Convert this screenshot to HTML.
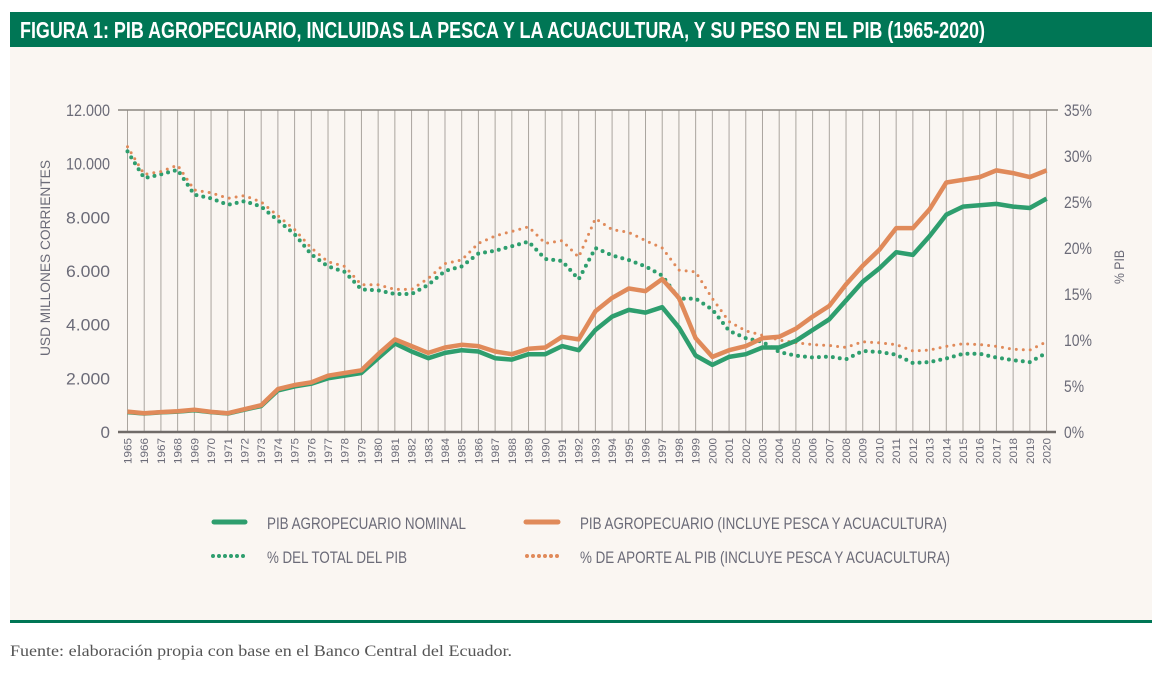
<!DOCTYPE html>
<html><head><meta charset="utf-8"><style>
body{margin:0;width:1174px;height:679px;background:#fff;overflow:hidden}
#title{position:absolute;left:10px;top:12px;width:1142px;height:35px;background:#007655}
#panel{position:absolute;left:10px;top:47px;width:1142px;height:573px;background:#faf6f2;border-bottom:3px solid #007655}
svg{position:absolute;left:0;top:0}
</style></head><body>
<div id="title"></div>
<div id="panel"></div>
<svg id="s" width="1174" height="679" font-family="Liberation Sans, sans-serif"></svg>
<script>
const o=[760,700,740,770,830,750,700,850,1000,1600,1750,1850,2100,2200,2300,2900,3450,3200,2950,3150,3250,3200,3000,2900,3100,3150,3550,3450,4500,5000,5350,5250,5700,5000,3500,2800,3050,3200,3500,3550,3850,4300,4700,5500,6200,6800,7600,7600,8300,9300,9400,9500,9750,9650,9500,9750];
const g=[740,690,730,760,810,740,690,830,970,1550,1700,1800,2000,2100,2200,2750,3300,3000,2750,2950,3050,3000,2750,2700,2900,2900,3200,3050,3800,4300,4550,4450,4650,3900,2850,2500,2800,2900,3150,3150,3400,3800,4200,4900,5600,6100,6700,6600,7300,8100,8400,8450,8500,8400,8350,8700];
const op=[31,28,28.3,29,26.3,26,25.4,25.7,25,23.5,22,20,18.5,18,16,16,15.5,15.5,16.7,18.3,18.7,20.5,21.3,21.8,22.3,20.5,20.8,19,23.2,22,21.7,20.8,20,17.6,17.4,14.5,12,11,10.5,10,9.7,9.5,9.4,9.2,9.8,9.7,9.5,8.8,8.9,9.3,9.6,9.5,9.3,9,8.9,9.8];
const gp=[30.5,27.6,28,28.5,25.8,25.4,24.7,25.1,24.5,23,21.5,19.3,18,17.4,15.5,15.4,15,15,16,17.5,18,19.4,19.7,20.2,20.7,18.8,18.6,16.6,20,19.2,18.7,18,17,14.5,14.5,13.3,11,10.2,9.8,8.7,8.3,8.1,8.2,7.9,8.8,8.7,8.4,7.5,7.6,8,8.5,8.5,8.1,7.8,7.6,8.6];
const X=i=>127.5+i*16.71, Y=v=>432-v*0.02683, P=v=>432-v*9.2;
let h='';
h+=`<text x="20" y="38" font-size="23" font-weight="bold" fill="#fff" textLength="965" lengthAdjust="spacingAndGlyphs">FIGURA 1: PIB AGROPECUARIO, INCLUIDAS LA PESCA Y LA ACUACULTURA, Y SU PESO EN EL PIB (1965-2020)</text>`;
for(let i=0;i<56;i++){h+=`<line x1="${X(i)}" y1="110" x2="${X(i)}" y2="432" stroke="#aaa59f" stroke-width="1"/>`;
h+=`<text transform="translate(${X(i)+4},438) rotate(-90)" text-anchor="end" font-size="11" fill="#6b6b78" textLength="26" lengthAdjust="spacingAndGlyphs">${1965+i}</text>`;}
h+=`<line x1="118" y1="110" x2="1058" y2="110" stroke="#8a8580" stroke-width="1.5"/>`;
h+=`<line x1="118" y1="432" x2="1056" y2="432" stroke="#706b68" stroke-width="2.5"/>`;
for(let k=0;k<=6;k++){const v=k*2000;h+=`<text x="110" y="${Y(v)+6}" text-anchor="end" font-size="17" fill="#6b6b78" ${v?'textLength="44" lengthAdjust="spacingAndGlyphs"':''}>${v?(v/1000)+'.000':'0'}</text>`;}
for(let k=0;k<=7;k++){h+=`<text x="1064" y="${P(k*5)+6}" font-size="17" fill="#6b6b78" textLength="${k<2?20:28}" lengthAdjust="spacingAndGlyphs">${k*5}%</text>`;}
h+=`<text transform="translate(50,258) rotate(-90)" text-anchor="middle" font-size="14" fill="#6b6b78" textLength="196" lengthAdjust="spacingAndGlyphs">USD MILLONES CORRIENTES</text>`;
h+=`<text transform="translate(1124,267) rotate(-90)" text-anchor="middle" font-size="14" fill="#6b6b78" textLength="34" lengthAdjust="spacingAndGlyphs">% PIB</text>`;
const pl=(a,f)=>a.map((v,i)=>X(i).toFixed(1)+','+f(v).toFixed(1)).join(' ');
h+=`<polyline points="${pl(gp,P)}" fill="none" stroke="#2e9e6e" stroke-width="4" stroke-dasharray="0 7" stroke-linecap="round"/>`;
h+=`<polyline points="${pl(op,P)}" fill="none" stroke="#e08a5a" stroke-width="3" stroke-dasharray="0 7" stroke-linecap="round"/>`;
h+=`<polyline points="${pl(g,Y)}" fill="none" stroke="#2e9e6e" stroke-width="4.5" stroke-linejoin="round"/>`;
h+=`<polyline points="${pl(o,Y)}" fill="none" stroke="#e08a5a" stroke-width="4.5" stroke-linejoin="round"/>`;
h+=`<line x1="214" y1="522" x2="245" y2="522" stroke="#2e9e6e" stroke-width="5" stroke-linecap="round"/>`;
h+=`<line x1="526" y1="522" x2="558" y2="522" stroke="#e08a5a" stroke-width="5" stroke-linecap="round"/>`;
h+=`<line x1="213" y1="556" x2="246" y2="556" stroke="#2e9e6e" stroke-width="4" stroke-dasharray="0 6" stroke-linecap="round"/>`;
h+=`<line x1="527" y1="556" x2="560" y2="556" stroke="#e08a5a" stroke-width="4" stroke-dasharray="0 6" stroke-linecap="round"/>`;
const L=(x,y,t,w)=>`<text x="${x}" y="${y}" font-size="17" fill="#6b6b78" textLength="${w}" lengthAdjust="spacingAndGlyphs">${t}</text>`;
h+=L(267,529,'PIB AGROPECUARIO NOMINAL',199)+L(580,529,'PIB AGROPECUARIO (INCLUYE PESCA Y ACUACULTURA)',367)+L(267,563,'% DEL TOTAL DEL PIB',140)+L(580,563,'% DE APORTE AL PIB (INCLUYE PESCA Y ACUACULTURA)',370);
h+=`<text x="10" y="656" font-family="Liberation Serif, serif" font-size="16" fill="#555" textLength="502" lengthAdjust="spacingAndGlyphs">Fuente: elaboración propia con base en el Banco Central del Ecuador.</text>`;
document.getElementById('s').innerHTML=h;
</script>
</body></html>
